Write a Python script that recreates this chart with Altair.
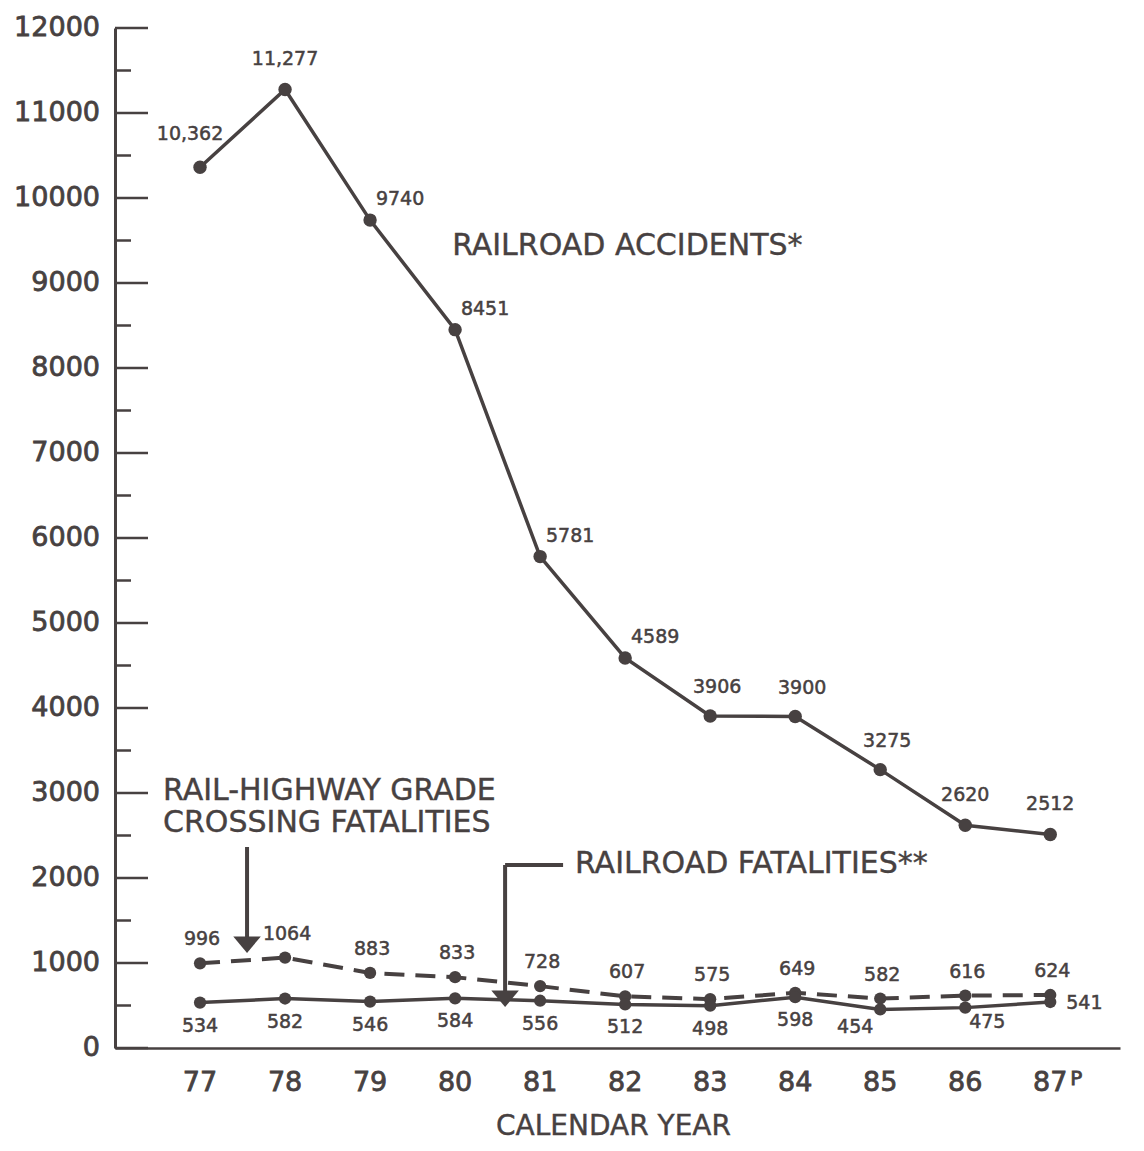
import altair as alt
import pandas as pd

INK = "#474141"
FONT = "DejaVu Sans"

# ---------------- data ----------------
years = [77, 78, 79, 80, 81, 82, 83, 84, 85, 86, 87]
year_labels = ["77", "78", "79", "80", "81", "82", "83", "84", "85", "86", "87"]
railroad_accidents = [10362, 11277, 9740, 8451, 5781, 4589, 3906, 3900, 3275, 2620, 2512]
accident_labels = ["10,362", "11,277", "9740", "8451", "5781", "4589", "3906", "3900", "3275", "2620", "2512"]
grade_crossing_fatalities = [996, 1064, 883, 833, 728, 607, 575, 649, 582, 616, 624]
railroad_fatalities = [534, 582, 546, 584, 556, 512, 498, 598, 454, 475, 541]

y_major_ticks = [0, 1000, 2000, 3000, 4000, 5000, 6000, 7000, 8000, 9000, 10000, 11000, 12000]
y_minor_ticks = [500, 1500, 2500, 3500, 4500, 5500, 6500, 7500, 8500, 9500, 10500, 11500]

annot_text = ["RAILROAD ACCIDENTS*", "RAIL-HIGHWAY GRADE", "CROSSING FATALITIES", "RAILROAD FATALITIES**"]
annot_x = [79.965, 76.565, 76.565, 81.41]
annot_y = [9329, 2918, 2541, 2059]

arrow_x = [77.553, 81.27, 80.588]
arrow_x2 = [77.553, 80.588, 80.588]
arrow_y = [2365, 2153, 2153]
arrow_y2 = [1230, 2153, 600]
arrow_tip_x = [77.553, 80.588]
arrow_tip_y = [1118, 482]

# ---------------- tables ----------------
acc = pd.DataFrame({"year": years, "value": railroad_accidents, "label": accident_labels})
gx = pd.DataFrame({"year": years, "value": grade_crossing_fatalities})
gx["label"] = gx["value"].astype(str)
rf = pd.DataFrame({"year": years, "value": railroad_fatalities})
rf["label"] = rf["value"].astype(str)
major = pd.DataFrame({"value": y_major_ticks, "label": [str(v) for v in y_major_ticks]})
minor = pd.DataFrame({"value": y_minor_ticks})
xlab = pd.DataFrame({"year": years, "label": year_labels})
ann = pd.DataFrame({"year": annot_x, "value": annot_y, "text": annot_text})
arr = pd.DataFrame({"year": arrow_x, "year2": arrow_x2, "value": arrow_y, "value2": arrow_y2})
tips = pd.DataFrame({"year": arrow_tip_x, "value": arrow_tip_y})

W, H = 1005, 1020

xs = alt.Scale(domain=[76.0, 87.82], nice=False, zero=False)
ys = alt.Scale(domain=[0, 12000], nice=False, zero=True)

x_axis = alt.Axis(values=years, ticks=False, grid=False, labels=False,
                  domainColor=INK, domainWidth=2.5, title=None)
y_axis = alt.Axis(values=y_major_ticks, ticks=False, grid=False, labels=False,
                  domainColor=INK, domainWidth=3, title=None)


def X(f="year"):
    return alt.X(f"{f}:Q", scale=xs, axis=x_axis)


def Y(f="value"):
    return alt.Y(f"{f}:Q", scale=ys, axis=y_axis)


def sel(df, ys_):
    return alt.Chart(df).transform_filter(alt.FieldOneOfPredicate(field="year", oneOf=ys_))


# lines and points
acc_line = alt.Chart(acc).mark_line(color=INK, strokeWidth=3.5).encode(x=X(), y=Y())
acc_pts = alt.Chart(acc).mark_point(filled=True, shape="circle", size=180, color=INK, opacity=1).encode(x=X(), y=Y())
gx_line = alt.Chart(gx).mark_line(color=INK, strokeWidth=4, strokeDash=[20, 11]).encode(x=X(), y=Y())
gx_pts = alt.Chart(gx).mark_point(filled=True, shape="circle", size=150, color=INK, opacity=1).encode(x=X(), y=Y())
rf_line = alt.Chart(rf).mark_line(color=INK, strokeWidth=3.5).encode(x=X(), y=Y())
rf_pts = alt.Chart(rf).mark_point(filled=True, shape="circle", size=150, color=INK, opacity=1).encode(x=X(), y=Y())

lab = dict(font=FONT, fontSize=19, color=INK, stroke=INK, strokeWidth=0.5)
big = dict(font=FONT, color=INK, stroke=INK, strokeWidth=0.8)

acc_txt = [
    sel(acc, [79, 80, 81, 82]).mark_text(dx=30, dy=-15, baseline="alphabetic", **lab).encode(x=X(), y=Y(), text="label:N"),
    sel(acc, [83, 84, 85]).mark_text(dx=7, dy=-23, baseline="alphabetic", **lab).encode(x=X(), y=Y(), text="label:N"),
    sel(acc, [77]).mark_text(dx=-10, dy=-27, baseline="alphabetic", **lab).encode(x=X(), y=Y(), text="label:N"),
    sel(acc, [78, 86, 87]).mark_text(dx=0, dy=-24, baseline="alphabetic", **lab).encode(x=X(), y=Y(), text="label:N"),
]
gx_txt = alt.Chart(gx).mark_text(dx=2, dy=-18, baseline="alphabetic", **lab).encode(x=X(), y=Y(), text="label:N")
rf_txt = [
    sel(rf, [77, 78, 79, 80, 81, 82, 83, 84]).mark_text(dy=14, baseline="top", **lab).encode(x=X(), y=Y(), text="label:N"),
    sel(rf, [85]).mark_text(dx=-25, dy=9, baseline="top", **lab).encode(x=X(), y=Y(), text="label:N"),
    sel(rf, [86]).mark_text(dx=22, dy=5, baseline="top", **lab).encode(x=X(), y=Y(), text="label:N"),
    sel(rf, [87]).mark_text(dx=16, dy=1, align="left", baseline="middle", **lab).encode(x=X(), y=Y(), text="label:N"),
]

# y-axis inward ticks and labels
major_ticks = alt.Chart(major).mark_rule(color=INK, strokeWidth=2.5).encode(
    y=Y(), x=alt.value(0), x2=alt.value(33))
minor_ticks = alt.Chart(minor).mark_rule(color=INK, strokeWidth=2.5).encode(
    y=Y(), x=alt.value(0), x2=alt.value(16))
y_labels = alt.Chart(major).mark_text(fontSize=27, align="right", baseline="middle", dx=-15, **big).encode(
    y=Y(), x=alt.value(0), text="label:N")

# x labels
x_labels = alt.Chart(xlab).mark_text(fontSize=27, align="center", baseline="top", **big).encode(
    x=X(), y=alt.value(H + 22), text="label:N")
p_mark = alt.Chart(pd.DataFrame({"year": [87], "t": ["P"]})).mark_text(
    fontSize=20, align="left", baseline="top", dx=20, **big).encode(
    x=X(), y=alt.value(H + 21), text="t:N")

# axis title
x_title = alt.Chart(pd.DataFrame({"t": ["CALENDAR YEAR"]})).mark_text(
    fontSize=28, baseline="alphabetic", font=FONT, color=INK, stroke=INK, strokeWidth=0.4).encode(
    x=alt.value(W / 2 - 4), y=alt.value(H + 87), text="t:N")

# annotations
ann_txt = alt.Chart(ann).mark_text(fontSize=30, align="left", baseline="alphabetic",
                                   font=FONT, color=INK, stroke=INK, strokeWidth=0.4).encode(
    x=X(), y=Y(), text="text:N")
arrows = alt.Chart(arr).mark_rule(color=INK, strokeWidth=4).encode(
    x=X(), x2="year2:Q", y=Y(), y2="value2:Q")
heads = alt.Chart(tips).mark_point(filled=True, shape="M-1,-1.2 L1,-1.2 L0,0 Z", size=760,
                                   color=INK, opacity=1).encode(x=X(), y=Y())

chart = alt.layer(
    major_ticks, minor_ticks,
    gx_line, rf_line, acc_line,
    gx_pts, rf_pts, acc_pts,
    *acc_txt, gx_txt, *rf_txt,
    y_labels, x_labels, p_mark,
    ann_txt, arrows, heads, x_title,
).properties(
    width=W, height=H,
    autosize=alt.AutoSizeParams(type="none"),
    padding={"left": 107, "top": 20, "right": 16, "bottom": 95},
    background="white",
).configure_view(strokeWidth=0)

chart.save("out.html", embed_options={"renderer": "svg", "actions": False})
